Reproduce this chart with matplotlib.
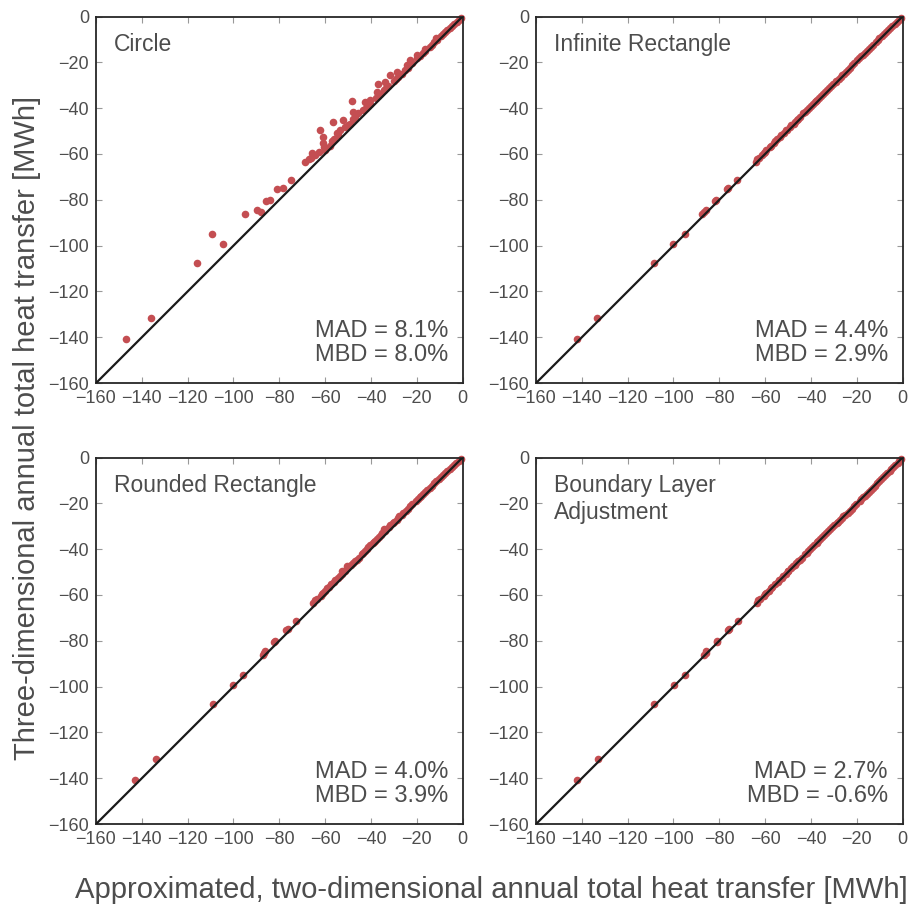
import matplotlib
matplotlib.use("Agg")
import matplotlib.pyplot as plt

# ── DATA ──────────────────────────────────────────────────────────────────────
# three-dimensional (reference) annual heat transfer, shared by all panels [MWh]
y_3d = [-140.8, -131.6, -107.8, -99.3, -94.9, -86.1, -85.2, -84.6, -80.4, -80.2,
        -75.5, -75.0, -71.2, -63.3,
        -62.4, -61.8, -60.3, -59.6, -59.0, -58.2, -57.1, -56.5, -55.3, -54.4,
        -53.6, -52.5, -51.6, -50.9, -49.7, -49.5, -48.3, -47.4, -46.7, -46.1,
        -45.2, -44.6, -43.8, -42.3, -41.6, -40.9, -40.0, -39.2, -38.3, -37.2,
        -36.9, -36.5, -35.6, -34.8, -33.9, -32.9, -32.2, -31.3, -30.4, -29.5,
        -28.5, -28.0, -27.1, -26.3, -25.6, -24.9, -24.1, -23.2, -22.3, -21.2,
        -20.4, -19.0, -18.2, -17.4, -16.8, -15.9, -15.0, -14.0, -13.2, -12.3,
        -11.3, -10.4, -9.6, -8.7, -7.8, -6.9, -5.9, -5.1, -4.2, -3.3, -2.3,
        -1.5, -0.7]

# two-dimensional approximations, one list per method [MWh]
x_circle = [-146.7, -136.1, -115.8, -104.6, -109.4, -95.0, -87.9, -89.6, -86.0, -84.1,
            -80.8, -78.3, -75.1, -68.6,
            -67.2, -66.1, -64.3, -65.9, -62.5, -60.0, -60.5, -57.8, -61.1, -57.2,
            -56.0, -60.8, -54.3, -54.8, -62.1, -53.5, -51.2, -50.0, -49.0, -56.5,
            -52.1, -47.8, -46.8, -45.6, -47.7, -43.5, -42.3, -41.4, -40.3, -42.6,
            -48.2, -40.4, -37.9, -36.9, -36.1, -37.5, -34.2, -33.3, -32.4, -37.1,
            -33.9, -30.0, -28.9, -28.1, -31.7, -26.6, -28.8, -25.0, -23.9, -24.4,
            -22.0, -23.0, -19.7, -18.8, -20.1, -17.2, -16.3, -16.5, -14.3, -13.3,
            -12.3, -11.3, -11.4, -9.5, -8.6, -7.6, -7.0, -5.6, -4.7, -3.7, -2.6,
            -1.7, -0.8]

x_inf_rect = [-142.3, -133.2, -108.5, -100.1, -95.1, -87.7, -86.8, -86.0, -81.7, -81.5,
              -76.5, -76.2, -72.4, -64.0,
              -63.5, -62.8, -61.4, -60.3, -60.2, -59.4, -58.0, -57.4, -56.3, -55.5,
              -54.9, -53.6, -52.9, -51.9, -50.8, -50.4, -49.0, -48.5, -47.6, -47.0,
              -46.3, -45.5, -44.6, -43.4, -42.6, -41.9, -40.9, -40.1, -39.2, -38.2,
              -37.6, -37.3, -36.5, -35.7, -34.7, -33.8, -33.0, -32.1, -31.3, -30.4,
              -29.2, -28.9, -27.9, -27.1, -26.4, -25.6, -24.9, -24.0, -23.0, -21.9,
              -21.1, -19.7, -18.9, -18.0, -17.5, -16.5, -15.6, -14.6, -13.8, -12.8,
              -11.8, -10.9, -10.2, -9.2, -8.3, -7.3, -6.3, -5.4, -4.5, -3.5, -2.5,
              -1.6, -0.8]

x_round_rect = [-143.0, -133.7, -108.9, -100.2, -95.7, -87.2, -86.8, -86.3, -82.3, -82.0,
                -77.2, -76.4, -72.9, -65.1,
                -64.4, -63.6, -62.0, -61.5, -61.0, -60.1, -59.0, -58.3, -57.3, -56.0,
                -55.6, -54.4, -53.3, -52.6, -52.7, -51.4, -50.3, -50.3, -48.6, -48.0,
                -47.1, -46.2, -45.4, -44.0, -43.3, -42.6, -41.7, -41.1, -40.3, -39.3,
                -38.6, -38.2, -37.4, -36.5, -35.6, -35.0, -34.0, -34.3, -32.3, -31.5,
                -30.5, -29.8, -28.8, -28.0, -27.6, -26.5, -25.8, -24.8, -23.8, -22.8,
                -21.9, -20.5, -19.6, -18.8, -18.3, -17.2, -16.6, -15.5, -14.4, -13.4,
                -12.4, -11.5, -10.5, -9.6, -8.7, -7.6, -6.6, -5.7, -4.7, -3.7, -2.7,
                -1.7, -0.8]

x_boundary = [-142.0, -133.1, -108.4, -99.8, -95.0, -86.5, -86.0, -85.6, -81.2, -81.0,
              -76.1, -75.8, -72.0, -63.7,
              -62.9, -62.3, -60.5, -59.9, -59.4, -58.5, -57.6, -56.9, -55.6, -54.5,
              -54.0, -52.8, -52.0, -51.1, -50.0, -49.9, -48.6, -47.8, -47.0, -46.4,
              -45.6, -44.9, -44.1, -42.7, -41.9, -41.2, -40.3, -39.6, -38.7, -37.5,
              -37.2, -36.8, -36.0, -35.1, -34.2, -33.3, -32.4, -31.6, -30.7, -29.8,
              -28.8, -28.3, -27.4, -26.6, -25.9, -25.1, -24.0, -23.0, -22.1, -21.0,
              -20.2, -18.8, -18.0, -17.2, -16.6, -15.7, -14.8, -13.8, -13.0, -12.1,
              -11.1, -10.2, -9.4, -8.5, -7.6, -6.7, -5.7, -4.9, -4.0, -3.1, -2.2,
              -1.4, -0.6]

panel_names = ["Circle", "Infinite Rectangle", "Rounded Rectangle",
               "Boundary Layer\nAdjustment"]
panel_x = [x_circle, x_inf_rect, x_round_rect, x_boundary]
mad = ["8.1%", "4.4%", "4.0%", "2.7%"]
mbd = ["8.0%", "2.9%", "3.9%", "-0.6%"]
ticks = [-160, -140, -120, -100, -80, -60, -40, -20, 0]

RED = "#c44e52"
TXT = "#4d4d4d"

plt.rcParams["font.family"] = ["Liberation Sans", "DejaVu Sans"]

# ── FIGURE ────────────────────────────────────────────────────────────────────
W, H = 912, 909
fig = plt.figure(figsize=(W / 100, H / 100), dpi=100)

# axes boxes in pixels: left, top
boxes = [(96, 16.5), (536, 16.5), (96, 457.5), (536, 457.5)]
size = 366.6

for i, (left, top) in enumerate(boxes):
    ax = fig.add_axes([left / W, 1 - (top + size) / H, size / W, size / H])
    ax.scatter(panel_x[i], y_3d, s=30, color=RED, linewidths=0, zorder=2,
               clip_on=False)
    ax.plot([-160, 0], [-160, 0], color="#1a1a1a", linewidth=1.6, zorder=3)

    ax.set_xlim(-160, 0)
    ax.set_ylim(-160, 0)
    ax.set_xticks(ticks)
    ax.set_yticks(ticks)
    ax.tick_params(direction="in", length=4, width=0.8, color="#999999",
                   top=True, right=True, labelsize=13, labelcolor=TXT, pad=5)
    for sp in ax.spines.values():
        sp.set_color("#262626")
        sp.set_linewidth(1.3)

    ax.text(0.05, 0.955, panel_names[i], transform=ax.transAxes,
            ha="left", va="top", fontsize=16.5, color=TXT, linespacing=1.2)
    ax.text(0.96, 0.125, f"MAD = {mad[i]}", transform=ax.transAxes,
            ha="right", va="baseline", fontsize=17, color=TXT)
    ax.text(0.96, 0.06, f"MBD = {mbd[i]}", transform=ax.transAxes,
            ha="right", va="baseline", fontsize=17, color=TXT)

# ── SHARED AXIS LABELS ────────────────────────────────────────────────────────
fig.text(75 / W, 1 - 898 / H,
         "Approximated, two-dimensional annual total heat transfer [MWh]",
         ha="left", va="baseline", fontsize=21.1, color=TXT)
fig.text(27 / W, 1 - 428 / H,
         "Three-dimensional annual total heat transfer [MWh]",
         ha="center", va="center", rotation=90, fontsize=21, color=TXT)

plt.savefig("out.png", dpi=100)
print("saved out.png")
